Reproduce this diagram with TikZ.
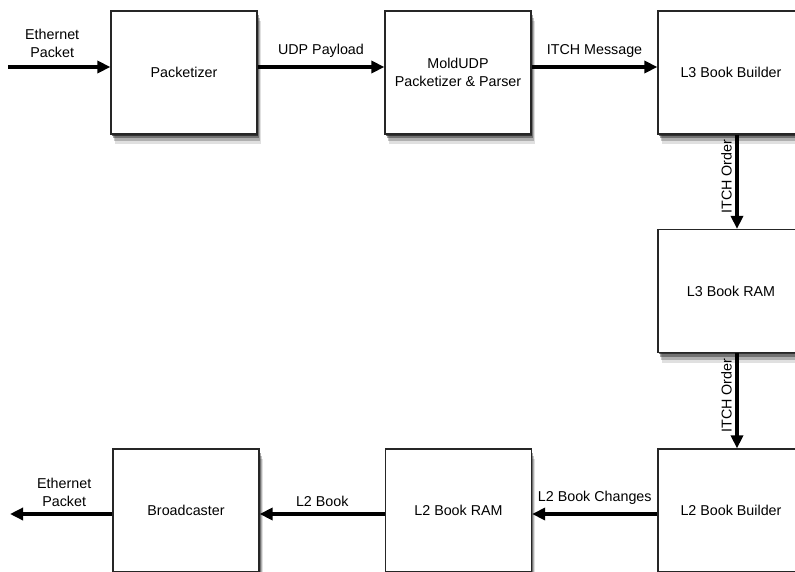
\documentclass[tikz,border=0pt]{standalone}
\usepackage{fontspec}
\setmainfont{Liberation Sans}
\usepackage{tikz}
\usetikzlibrary{arrows.meta, shadows, positioning, calc}
\tikzset{flow/.style={-{Triangle[length=13pt,width=12pt]}, line width=3.6pt, black},
shadowed/.style={drop shadow={shadow xshift=0.5pt,shadow yshift=-1.5pt,opacity=0.55,fill=black},
                 drop shadow={shadow xshift=1.5pt,shadow yshift=-4pt,opacity=0.35,fill=black},
                 drop shadow={shadow xshift=2.5pt,shadow yshift=-7pt,opacity=0.22,fill=black},
                 drop shadow={shadow xshift=3.5pt,shadow yshift=-10pt,opacity=0.12,fill=black}}}

\begin{document}
\begin{tikzpicture}[x=1pt,y=-1pt,
                    main node/.style={rectangle,draw=black!85,line width=1.2pt,fill=white,shadowed,
                    minimum width=146pt,minimum height=123pt,align=center,inner sep=0pt},
                    font=\fontsize{14.3}{18}\selectfont]

\useasboundingbox (0,0) rectangle (795,571);

%Top row of blocks
 \node[main node] (Packetizer) at (184,72.5) {Packetizer};
 \node[main node] (MoldParser) at (458,72.5) {MoldUDP\\Packetizer \& Parser};
 \node[main node] (LThreeBuilder) at (731,72.5) {L3 Book Builder};

%Right column
 \node[main node] (LThreeRam) at (731,291) {L3 Book RAM};

%Bottom row of blocks
 \node[main node] (LTwoBuilder) at (731,510.5) {L2 Book Builder};
 \node[main node] (LTwoRam) at (458.5,510.5) {L2 Book RAM};
 \node[main node] (Broadcaster) at (186,510.5) {Broadcaster};

%Free ends
 \coordinate (PacketIn) at (8,67);
 \coordinate (PacketOut) at (10,514);

%Connectors
 \draw[flow] (PacketIn) -- ([yshift=5.5pt]Packetizer.west)
   node[midway,above=4pt,xshift=-7pt,align=center] (InLabel) {Ethernet\\Packet};
 \draw[flow] ([yshift=5.5pt]Packetizer.east) -- ([yshift=5.5pt]MoldParser.west)
   node[midway,above=4pt] (PayloadLabel) {UDP Payload};
 \draw[flow] ([yshift=5.5pt]MoldParser.east) -- ([yshift=5.5pt]LThreeBuilder.west)
   node[midway,above=4pt] (MessageLabel) {ITCH Message};

 \draw[flow] ([xshift=6pt]LThreeBuilder.south) -- ([xshift=6pt]LThreeRam.north)
   node[midway,rotate=90,above=5pt] (OrderLabel1) {ITCH Order};
 \draw[flow] ([xshift=6pt]LThreeRam.south) -- ([xshift=6pt]LTwoBuilder.north)
   node[midway,rotate=90,above=5pt] (OrderLabel2) {ITCH Order};

 \draw[flow] ([yshift=-3.5pt]LTwoBuilder.west) -- ([yshift=-3.5pt]LTwoRam.east)
   node[midway,above=4pt] (ChangesLabel) {L2 Book Changes};
 \draw[flow] ([yshift=-3.5pt]LTwoRam.west) -- ([yshift=-3.5pt]Broadcaster.east)
   node[midway,above=2pt] (BookLabel) {L2 Book};
 \draw[flow] ([yshift=-3.5pt]Broadcaster.west) -- (PacketOut)
   node[midway,above=2pt,xshift=3pt,align=center] (OutLabel) {Ethernet\\Packet};

\end{tikzpicture}
\end{document}
